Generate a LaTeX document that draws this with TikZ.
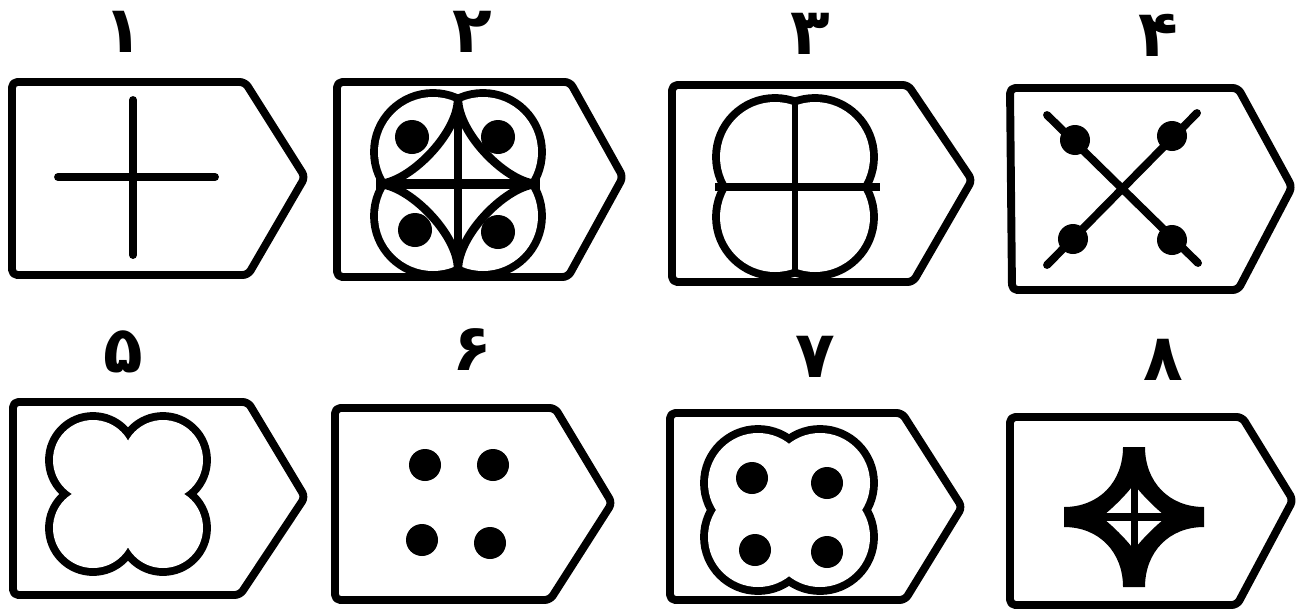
\documentclass[tikz,border=0pt]{standalone}
\usepackage{fontspec}
\usepackage{tikz}
\newfontfamily\fadigits[Script=Arabic]{DejaVu Sans}

% four overlapping circles, only the outer rim stays
\newcommand{\lobeshape}[5]{%
  \foreach \sx in {-1,1} \foreach \sy in {-1,1}
    \draw[line width=9pt] ({#1+\sx*#3},{#2+\sy*#4}) circle (#5);
  \foreach \sx in {-1,1} \foreach \sy in {-1,1}
    \fill[white] ({#1+\sx*#3},{#2+\sy*#4}) circle (#5);
  \fill[white] ({#1-#3},{#2-#4}) rectangle ({#1+#3},{#2+#4});
}

\begin{document}
\begin{tikzpicture}[x=0.02cm, y=-0.02cm,
  card/.style={line width=4.5pt, rounded corners=3pt, line join=round},
  bar/.style={line width=4.5pt, line cap=round},
  thinbar/.style={line width=3.8pt},
  lbl/.style={font=\fadigits\bfseries\fontsize{37}{42}\selectfont,
              inner sep=0pt, anchor=base}]
\useasboundingbox (0,0) rectangle (1300,612);

% labels (placed on their baseline)
\node[lbl] (n1) at (123,52) {۱};
\node[lbl] (n2) at (472,52) {۲};
\node[lbl] (n3) at (810,54) {۳};
\node[lbl] (n4) at (1158,56) {۴};
\node[lbl] (n5) at (123,372) {۵};
\node[lbl] (n6) at (472,370) {۶};
\node[lbl] (n7) at (815,377) {۷};
\node[lbl] (n8) at (1163,380) {۸};

% cards
\draw[card] (12,82) -- (245,82) -- (305,177) -- (248,275) -- (12,275) -- cycle;
\draw[card] (337,82) -- (570,82) -- (623,177) -- (568,277) -- (337,277) -- cycle;
\draw[card] (672,85) -- (908,85) -- (972,180) -- (913,282) -- (672,282) -- cycle;
\draw[card] (1010,88) -- (1238,88) -- (1292,187) -- (1238,290) -- (1012,290) -- cycle;
\draw[card] (13,402) -- (248,402) -- (305,497) -- (240,595) -- (13,595) -- cycle;
\draw[card] (335,408) -- (555,408) -- (612,503) -- (550,600) -- (335,600) -- cycle;
\draw[card] (670,413) -- (902,413) -- (962,507) -- (905,600) -- (670,600) -- cycle;
\draw[card] (1010,417) -- (1242,417) -- (1293,500) -- (1237,605) -- (1010,605) -- cycle;

% 1
\draw[bar] (133,100) -- (133,255);
\draw[bar] (58,177) -- (215,177);

% 2
\lobeshape{458}{184}{25}{32}{55}
\begin{scope}[shift={(458,184)}]
  \draw[line width=4.8pt] (0,-85) .. controls (0,-50) and (-50,0) .. (-80,0)
                 .. controls (-50,0) and (0,50) .. (0,85)
                 .. controls (0,50) and (50,0) .. (80,0)
                 .. controls (50,0) and (0,-50) .. (0,-85);
  \draw[line width=4pt] (0,-87) -- (0,87);
  \draw[line width=5.5pt] (-82,0) -- (82,0);
  \foreach \p in {(-46,-47),(40,-47),(-43,46),(40,48)}
    \fill \p circle (17);
\end{scope}

% 3
\lobeshape{795}{187}{20}{30}{55}
\draw[thinbar] (795,100) -- (795,275);
\draw[line width=4.5pt] (715,187) -- (880,187);

% 4
\draw[bar] (1047,115) -- (1198,263);
\draw[bar] (1197,113) -- (1047,265);
\foreach \p in {(1075,140),(1172,136),(1073,239),(1172,240)}
  \fill \p circle (15);

% 5
\lobeshape{128}{494}{35}{34}{40}

% 6
\foreach \p in {(425,465),(493,465),(422,540),(490,543)}
  \fill \p circle (16);

% 7
\lobeshape{789}{510}{31}{27}{50}
\foreach \p in {(752,478),(827,483),(755,550),(827,552)}
  \fill \p circle (16);

% 8
\begin{scope}[shift={(1134,517)}]
  \fill[even odd rule]
    (11,-70) .. controls (11,-35) and (35,-10) .. (70,-10) -- (70,10)
    .. controls (35,10) and (11,35) .. (11,70) -- (-11,70)
    .. controls (-11,35) and (-35,10) .. (-70,10) -- (-70,-10)
    .. controls (-35,-10) and (-11,-35) .. (-11,-70) -- cycle
    (0,-33) .. controls (6,-24) and (24,-6) .. (33,0)
    .. controls (24,6) and (6,24) .. (0,33)
    .. controls (-6,24) and (-24,6) .. (-33,0)
    .. controls (-24,-6) and (-6,-24) .. (0,-33);
  \draw[line width=4pt] (0,-35) -- (0,35);
  \draw[line width=4pt] (-35,0) -- (35,0);
\end{scope}
\end{tikzpicture}
\end{document}
